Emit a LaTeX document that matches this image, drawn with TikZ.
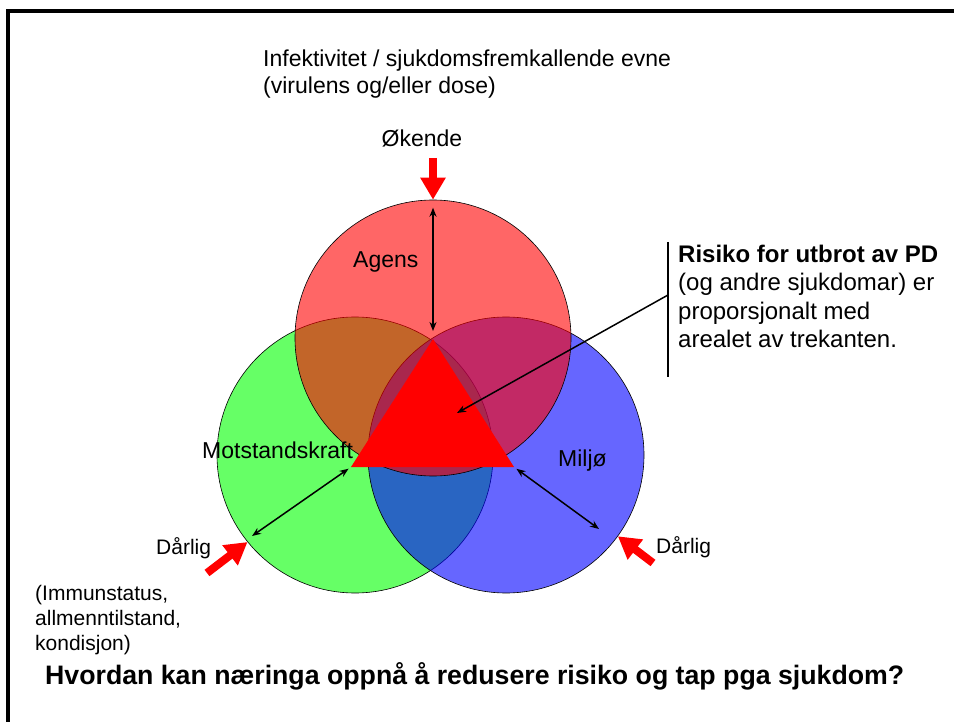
\documentclass[tikz,border=0pt]{standalone}
\usepackage{fontspec}
\setmainfont{Liberation Sans}
\usetikzlibrary{arrows.meta}
\usetikzlibrary{positioning}
\tikzset{
factor circle/.style = { circle, draw = black, fill opacity = 0.6, minimum size = 276pt, inner sep = 0pt, line width = 0.6pt },
big text/.style = { font = \fontsize{23}{27}\selectfont, inner sep = 0pt, align = left },
small text/.style = { font = \fontsize{21}{25}\selectfont, inner sep = 0pt, align = left },
fat arrow/.style = { draw = red, line width = 8pt, -{Triangle[width = 24pt, length = 22pt]} },
span arrow/.style = { line width = 1.5pt, {Stealth[length = 9pt, width = 7pt]}-{Stealth[length = 9pt, width = 7pt]} },
}

\begin{document}
\begin{tikzpicture}[x = 1pt, y = -1pt]
  \useasboundingbox (0, 0) rectangle (954, 722);
  \draw[line width = 4pt] (954, 11) -- (8, 11) -- (8, 722);

  % the three circles
  \node[factor circle, fill = green] (host) at (355, 455) {};
  \node[factor circle, fill = blue] (env) at (506, 455) {};
  \node[factor circle, fill = red] (agens) at (433, 338) {};

  % risk triangle
  \coordinate (apex) at (433, 339);
  \coordinate (left corner) at (351, 467);
  \coordinate (right corner) at (514, 467);
  \fill[red] (apex) -- (left corner) -- (right corner) -- cycle;

  % multi-line texts sit on their last line
  \node[big text, anchor = base west] (agent title) at (263, 94) {Infektivitet / sjukdomsfremkallende evne\\(virulens og/eller dose)};
  \node[big text, anchor = base] (increasing) at (422, 147) {Økende};
  \node[big text, anchor = base west] (agens label) at (353, 268) {Agens};
  \node[big text, anchor = base west] (host label) at (202, 458) {Motstandskraft};
  \node[big text, anchor = base west] (env label) at (558, 466) {Miljø};
  \node[small text, anchor = base west] (host poor) at (156, 554) {Dårlig};
  \node[small text, anchor = base west] (env poor) at (656, 553) {Dårlig};
  \node[small text, anchor = base west] (host note) at (35, 650) {(Immunstatus,\\allmenntilstand,\\kondisjon)};
  \node[font = \fontsize{24}{28.6}\selectfont, inner sep = 0pt, align = left, anchor = base west] (risk note) at (678, 348) {\textbf{Risiko for utbrot av PD}\\(og andre sjukdomar) er\\proporsjonalt med\\arealet av trekanten.};
  \node[font = \fontsize{26.7}{30}\selectfont\bfseries, inner sep = 0pt, anchor = base west] (question) at (45, 684) {Hvordan kan næringa oppnå å redusere risiko og tap pga sjukdom?};

  % red arrows
  \coordinate (top tail) at (433, 158);
  \coordinate (host tail) at (207, 573);
  \coordinate (env tail) at (653, 563);
  \draw[fat arrow] (top tail) -- (agens.north);
  \draw[fat arrow] (host tail) -- (host.219);
  \draw[fat arrow] (env tail) -- (env.-36);

  % black arrows
  \coordinate (host end) at (252, 536);
  \coordinate (env end) at (599, 529);
  \draw[span arrow, shorten <= 8pt, shorten >= 8pt] (agens.north) -- (apex);
  \draw[span arrow, shorten <= 3pt] (left corner) -- (host end);
  \draw[span arrow, shorten <= 3pt] (right corner) -- (env end);

  \coordinate (bar top) at (668, 242);
  \coordinate (bar mid) at (668, 295);
  \coordinate (bar bottom) at (668, 377);
  \coordinate (centre) at (457, 413);
  \draw[line width = 1.5pt] (bar top) -- (bar bottom);
  \draw[line width = 1.5pt, -{Stealth[length = 9pt, width = 7pt]}] (bar mid) -- (centre);
\end{tikzpicture}
\end{document}
